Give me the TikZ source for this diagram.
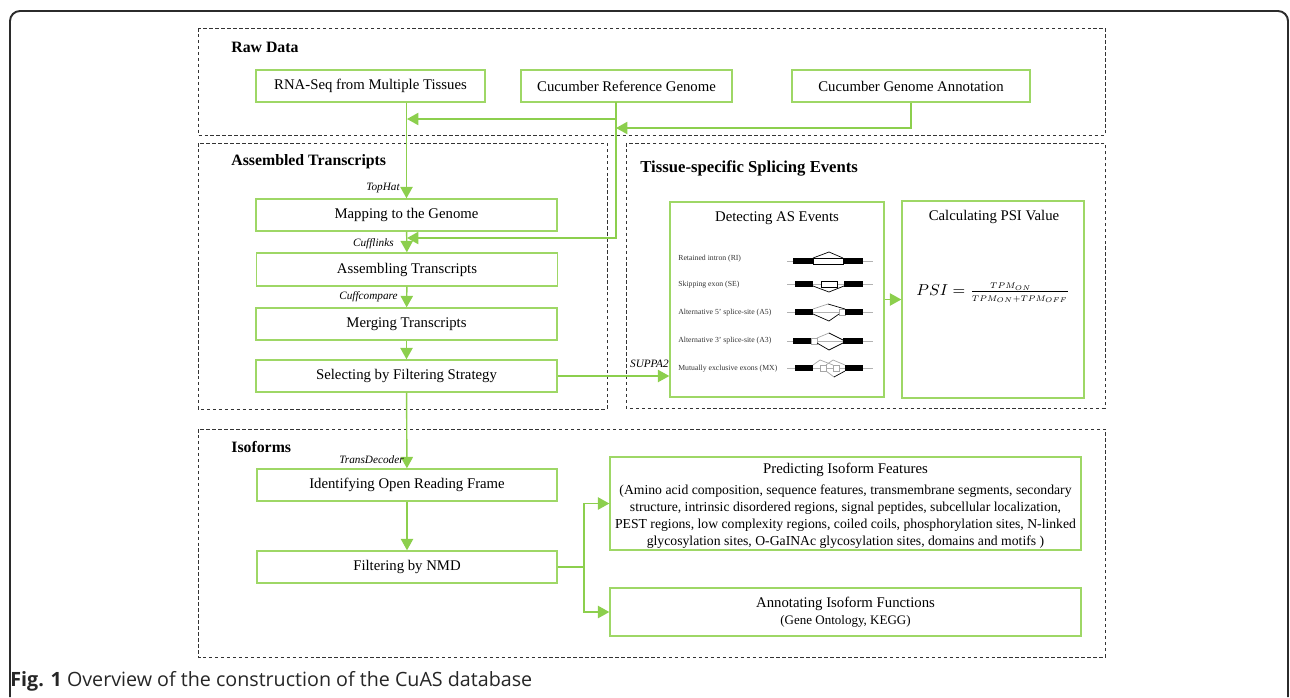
\documentclass[tikz,border=0pt]{standalone}
\usepackage{fontspec}
\setmainfont{Liberation Serif}
\newfontfamily\capfont{Open Sans}
\usepackage{tikz}
\usetikzlibrary{arrows.meta,positioning,calc}
\definecolor{boxgreen}{HTML}{9ED766}
\definecolor{linegreen}{HTML}{8CCF4D}
\definecolor{framegray}{HTML}{2B2B2B}

\begin{document}
\begin{tikzpicture}[x=0.02cm,y=-0.02cm,
  stagebox/.style={draw=boxgreen,line width=0.8pt,minimum width=6.02cm,minimum height=0.64cm,inner sep=0pt,font=\fontsize{8.4}{9.6}\selectfont,align=center},
  group/.style={draw=black!80,dash pattern=on 2pt off 1.4pt,line width=0.5pt},
  grouptitle/.style={anchor=west,inner sep=0pt,font=\fontsize{9}{11}\selectfont\bfseries},
  tool/.style={anchor=east,inner sep=0pt,font=\fontsize{6.4}{7}\selectfont\itshape},
  flow/.style={draw=linegreen,line width=0.8pt,-{Triangle[length=6.5pt,width=7pt]}},
  evt/.style={anchor=west,inner sep=0pt,text=black!80,font=\fontsize{4.4}{5}\selectfont},
  intron/.style={draw=black!30,line width=0.3pt},
  junction/.style={draw=black,line width=0.4pt},
  skipped/.style={draw=black!35,line width=0.4pt}]
  \useasboundingbox (0,0) rectangle (1290,697);

  % outer frame
  \draw[framegray,line width=1.1pt,rounded corners=0.2cm] (10,697) -- (10,11) -- (1288,11) -- (1288,697);

  % groups
  \draw[group] (198,28) rectangle (1105,135);
  \draw[group] (198,143) rectangle (607,409);
  \draw[group] (626,143) rectangle (1105,408);
  \draw[group] (198,429) rectangle (1105,657);
  \node[grouptitle] (rawtitle) at (231,47) {Raw Data};
  \node[grouptitle] (asmtitle) at (231,162) {Assembled Transcripts};
  \node[grouptitle,font=\fontsize{9.5}{11}\selectfont\bfseries] (tistitle) at (640,168) {Tissue-specific Splicing Events};
  \node[grouptitle] (isotitle) at (231,447) {Isoforms};

  % raw data
  \node[stagebox,minimum width=4.58cm] (rna) at (370.5,86) {RNA-Seq from Multiple Tissues};
  \node[stagebox,minimum width=4.22cm] (refgen) at (626.5,86) {Cucumber Reference Genome};
  \node[stagebox,minimum width=4.76cm] (annot) at (911,86) {Cucumber Genome Annotation};

  % assembled transcripts
  \node[stagebox] (map) at (406.5,215) {Mapping to the Genome};
  \node[stagebox,minimum height=0.66cm] (asm) at (407,269.5) {Assembling Transcripts};
  \node[stagebox] (merge) at (406.5,324) {Merging Transcripts};
  \node[stagebox] (select) at (406.5,376) {Selecting by Filtering Strategy};

  % isoforms
  \node[stagebox,minimum width=6cm] (orf) at (407,485) {Identifying Open Reading Frame};
  \node[stagebox,minimum width=6cm] (nmd) at (407,567) {Filtering by NMD};
  \node[stagebox,minimum width=9.42cm,minimum height=1.86cm] (pred) at (845.5,503.5) {};
  \node[font=\fontsize{8.4}{9.6}\selectfont,inner sep=0pt] (predtitle) at (845.5,470) {Predicting Isoform Features};
  \node[font=\fontsize{7.8}{9.64}\selectfont,align=center,inner sep=0pt] (predtext) at (845.5,517) {(Amino acid composition, sequence features, transmembrane segments, secondary\\structure, intrinsic disordered regions, signal peptides, subcellular localization,\\PEST regions, low complexity regions, coiled coils, phosphorylation sites, N-linked\\glycosylation sites, O-GaINAc glycosylation sites, domains and motifs )};
  \node[stagebox,minimum width=9.42cm,minimum height=0.96cm] (fun) at (845.5,612) {Annotating Isoform Functions\\{\fontsize{7.4}{9}\selectfont(Gene Ontology, KEGG)}};

  % splicing events
  \node[stagebox,minimum width=4.28cm,minimum height=3.9cm] (detect) at (777,299.5) {};
  \node[font=\fontsize{8.4}{9.6}\selectfont,inner sep=0pt] (detecttitle) at (777,218) {Detecting AS Events};
  \node[stagebox,minimum width=3.64cm,minimum height=3.94cm] (psi) at (993,299.5) {};
  \node[font=\fontsize{8.4}{9.6}\selectfont,inner sep=0pt] (psititle) at (994,217) {Calculating PSI Value};
  \node[inner sep=0pt] (psiformula) at (993,293) {\fontsize{9.5}{11}\selectfont $PSI=\frac{\scalebox{0.78}{\fontsize{6}{7}\selectfont$TPM_{ON}$}}{\scalebox{0.78}{\fontsize{6}{7}\selectfont$TPM_{ON}{+}TPM_{OFF}$}}$};

  \node[evt] (ri) at (678,259) {Retained intron (RI)};
  \node[evt] (se) at (678,285) {Skipping exon (SE)};
  \node[evt] (afive) at (678,313) {Alternative 5' splice-site (A5)};
  \node[evt] (athree) at (678,341) {Alternative 3' splice-site (A3)};
  \node[evt] (mx) at (678,369) {Mutually exclusive exons (MX)};

  \foreach \y in {261,284,312,341,368}
    \draw[intron] (787,\y) -- (873,\y);
  % RI
  \fill (793,258) rectangle (813,264);
  \draw[junction,fill=white] (813,258) rectangle (843,264);
  \fill (843,258) rectangle (863,264);
  \draw[junction] (813,258) -- (829,252) -- (843,258);
  % SE
  \fill (795,281) rectangle (813,287);
  \draw[junction,fill=white] (821,281) rectangle (837,287);
  \fill (844,281) rectangle (863,287);
  \draw[junction] (813,286) -- (829,292) -- (844,286);
  % A5
  \fill (795,309) rectangle (813,315);
  \draw[skipped,fill=white] (839,309) rectangle (845,315);
  \fill (845,309) rectangle (863,315);
  \draw[junction] (813,314) -- (829,321) -- (839,314);
  \draw[skipped] (813,309) -- (828,304);
  \draw[junction] (828,304) -- (845,309);
  % A3
  \fill (793,338) rectangle (811,344);
  \draw[skipped,fill=white] (811,338) rectangle (817,344);
  \fill (843,338) rectangle (863,344);
  \draw[skipped] (817,338) -- (829,333);
  \draw[junction] (829,333) -- (843,340);
  \draw[junction] (817,343) -- (829,350) -- (843,343);
  % MX
  \fill (795,365) rectangle (813,371);
  \draw[skipped,fill=white] (820,365) rectangle (826,371);
  \draw[skipped,fill=white] (833,365) rectangle (839,371);
  \fill (845,365) rectangle (863,371);
  \draw[skipped] (813,365) -- (820,360) -- (833,365);
  \draw[skipped] (826,365) -- (833,360) -- (845,365);
  \draw[skipped] (826,371) -- (834,377);
  \draw[junction] (834,377) -- (845,371);

  % connectors
  \coordinate (refdrop) at (616,102);
  \coordinate (rnajoin) at (407,119);
  \coordinate (annjoin) at (616,128);
  \coordinate (asmjoin) at (407,238);
  \coordinate (split) at (584,567);
  \draw[flow] (rna.south -| map.north) -- (map.north);
  \draw[flow] (refdrop) |- (rnajoin);
  \draw[flow] (annot.south) |- (annjoin);
  \draw[flow] (refdrop) |- (asmjoin);
  \draw[flow] (map) -- (asm);
  \draw[flow] (asm) -- (merge);
  \draw[flow] (merge) -- (select);
  \draw[flow] (select) -- (orf);
  \draw[flow] (select.east) -- (select.east -| detect.west);
  \draw[flow] (detect.east) -- (detect.east -| psi.west);
  \draw[flow] (orf) -- (nmd);
  \draw[draw=linegreen,line width=0.8pt] (nmd.east) -- (split);
  \draw[flow] (split) |- (pred.west);
  \draw[flow] (split) |- (fun.west);

  % tool labels
  \node[tool] (tophat) at (400,188) {TopHat};
  \node[tool] (cufflinks) at (394,244) {Cufflinks};
  \node[tool] (cuffcompare) at (398,297) {Cuffcompare};
  \node[tool] (transdecoder) at (404,460) {TransDecoder};
  \node[tool] (suppa) at (669,364) {SUPPA2};

  % caption
  \node[anchor=west,inner sep=0pt,text=black!85,font=\capfont\fontsize{11.2}{13}\selectfont] (caption) at (10,681) {\textbf{Fig. 1} Overview of the construction of the CuAS database};
\end{tikzpicture}
\end{document}
